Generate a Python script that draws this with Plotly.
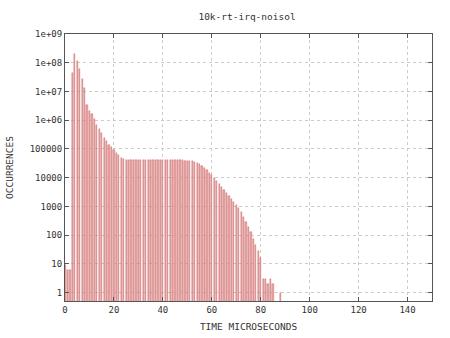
import plotly.graph_objects as go

micros = list(range(0, 86)) + [88]
occurrences = [
    9, 6, 6, 4.5e7, 1.95e8, 1.15e8, 6.3e7, 2.8e7, 1.35e7, 3.5e6,
    2.1e6, 1.6e6, 1.1e6, 7.0e5, 5.0e5, 3.6e5, 2.5e5, 1.85e5, 1.4e5, 1.17e5,
    9.5e4, 7.2e4, 6.0e4, 5.0e4, 4.5e4, 4.3e4, 4.3e4, 4.25e4, 4.25e4, 4.2e4,
    4.2e4, 4.2e4, 4.2e4, 4.15e4, 4.15e4, 4.15e4, 4.15e4, 4.1e4, 4.1e4, 4.1e4,
    4.1e4, 4.1e4, 4.1e4, 4.05e4, 4.05e4, 4.05e4, 4.0e4, 4.0e4, 4.0e4, 3.95e4,
    3.9e4, 3.8e4, 3.7e4, 3.5e4, 3.3e4, 2.95e4, 2.5e4, 2.1e4, 1.8e4, 1.5e4,
    1.2e4, 9.5e3, 7.6e3, 6.0e3, 4.8e3, 3.7e3, 3.0e3, 2.35e3, 1.85e3, 1.45e3,
    1.12e3, 850, 630, 440, 295, 200, 126, 71, 45, 28,
    16, 3, 3, 2, 3, 2, 1,
]

y_tickvals = [1, 10, 100, 1000, 10000, 100000, 1e6, 1e7, 1e8, 1e9]
y_ticktext = ["1", "10", "100", "1000", "10000", "100000", "1e+06", "1e+07", "1e+08", "1e+09"]
x_tickvals = [0, 20, 40, 60, 80, 100, 120, 140]

font = dict(family="DejaVu Sans Mono", size=9, color="#333333")
title_font = dict(family="DejaVu Sans Mono", size=9.5, color="#333333")

fig = go.Figure()
fig.add_trace(go.Bar(
    x=micros, y=occurrences, width=0.5,
    marker=dict(color="#eba5a5", line=dict(color="#c45a5a", width=0.4)),
))

axis_common = dict(
    showline=True, linecolor="#555555", linewidth=1, mirror="ticks",
    ticks="inside", ticklen=4, tickcolor="#555555",
    showgrid=True, gridcolor="#cccccc", griddash="dot", gridwidth=1,
    zeroline=False, tickfont=font, automargin=False,
)

fig.update_layout(
    width=450, height=338,
    margin=dict(l=65, r=18, t=34, b=37),
    paper_bgcolor="white", plot_bgcolor="white",
    showlegend=False, bargap=0,
    title=dict(text="10k-rt-irq-noisol", x=0.549, xanchor="center", y=0.95, yanchor="middle",
               font=title_font),
    xaxis=dict(range=[0, 150], tickvals=x_tickvals,
               title=dict(text="TIME MICROSECONDS", font=title_font, standoff=9),
               **axis_common),
    yaxis=dict(type="log", range=[-0.29, 9], tickvals=y_tickvals, ticktext=y_ticktext,
               title=dict(text="OCCURRENCES", font=title_font, standoff=14),
               **axis_common),
)

fig.write_html("out.html")
